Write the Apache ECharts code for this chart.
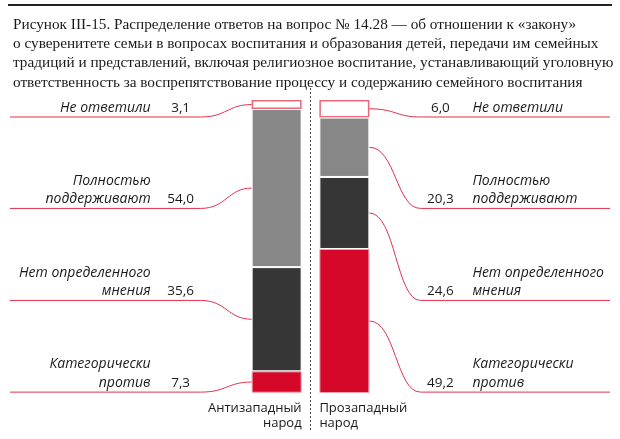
<!DOCTYPE html>
<html><head><meta charset="utf-8">
<script src="https://cdn.jsdelivr.net/npm/echarts@6/dist/echarts.min.js"></script>
<style>html,body{margin:0;padding:0;background:#fff}#c{width:620px;height:439px}</style>
</head><body><div id="c"></div>
<script>
const titleLines = [
  'Рисунок III-15. Распределение ответов на вопрос № 14.28 — об отношении к «закону»',
  'о суверенитете семьи в вопросах воспитания и образования детей, передачи им семейных',
  'традиций и представлений, включая религиозное воспитание, устанавливающий уголовную',
  'ответственность за воспрепятствование процессу и содержанию семейного воспитания'
];
const groups = ['Антизападный\nнарод', 'Прозападный\nнарод'];
const answers = ['Не ответили', 'Полностью\nподдерживают', 'Нет определенного\nмнения', 'Категорически\nпротив'];
const antiWestern = [3.1, 54.0, 35.6, 7.3];
const proWestern = [6.0, 20.3, 24.6, 49.2];

const valuesByGroup = [antiWestern, proWestern];
const fills = ['#ffffff', '#878787', '#363636', '#d5082a'];
const borders = ['#e8687a', '#ffffff', '#ffffff', '#f2a3ae'];
const lineColor = '#e2304a';
const rowFrac = [0.058, 0.370, 0.684, 0.997];
const barW = 50;
const fmt = v => v.toFixed(1).replace('.', ',');

const maxTotal = Math.max(...valuesByGroup.map(a => a.reduce((s, v) => s + v, 0)));

const barSeries = answers.map((name, i) => ({
  name, type: 'bar', stack: 'all', barWidth: barW,
  data: valuesByGroup.map(arr => arr[i]),
  itemStyle: { color: fills[i], borderColor: borders[i], borderWidth: i === 0 ? 1.5 : 1 },
  emphasis: { disabled: true }, silent: true
}));

const annData = [];
valuesByGroup.forEach((arr, g) => {
  let cum = 0;
  arr.forEach((v, i) => { annData.push([g, cum + v / 2, i, v]); cum += v; });
});

function renderItem(params, api) {
  const g = api.value(0), mid = api.value(1), row = api.value(2), val = api.value(3);
  const cs = params.coordSys;
  const p = api.coord([g, mid]);
  const band = api.size([1, 0])[0];
  const rowY = cs.y + rowFrac[row] * cs.height;
  const children = [];
  const labFont = 'italic 14px "Open Sans"';
  const valFont = '13.5px "Open Sans"';
  if (g === 0) {
    const edge = p[0] - barW / 2;
    const x0 = edge - 51;
    children.push({ type: 'line', shape: { x1: 10, y1: rowY, x2: x0, y2: rowY }, style: { stroke: lineColor, lineWidth: 1 } });
    children.push({ type: 'bezierCurve', shape: { x1: x0, y1: rowY, cpx1: x0 + 26, cpy1: rowY, cpx2: edge - 24, cpy2: p[1], x2: edge, y2: p[1] }, style: { stroke: lineColor, lineWidth: 1, fill: null } });
    children.push({ type: 'text', style: { text: fmt(val), x: edge - 71, y: rowY - 9, align: 'center', verticalAlign: 'middle', font: valFont, fill: '#1a1a1a' } });
    children.push({ type: 'text', style: { text: answers[row], x: edge - 101, y: rowY, align: 'right', verticalAlign: 'bottom', font: labFont, lineHeight: 18.5, fill: '#1a1a1a' } });
  } else {
    const edge = p[0] + barW / 2;
    const x1 = edge + 51;
    children.push({ type: 'line', shape: { x1: x1, y1: rowY, x2: 610, y2: rowY }, style: { stroke: lineColor, lineWidth: 1 } });
    children.push({ type: 'bezierCurve', shape: { x1: edge, y1: p[1], cpx1: edge + 26, cpy1: p[1], cpx2: x1 - 24, cpy2: rowY, x2: x1, y2: rowY }, style: { stroke: lineColor, lineWidth: 1, fill: null } });
    children.push({ type: 'text', style: { text: fmt(val), x: edge + 71, y: rowY - 9, align: 'center', verticalAlign: 'middle', font: valFont, fill: '#1a1a1a' } });
    children.push({ type: 'text', style: { text: answers[row], x: edge + 103, y: rowY, align: 'left', verticalAlign: 'bottom', font: labFont, lineHeight: 18.5, fill: '#1a1a1a' } });
  }
  if (row === answers.length - 1) {
    const gx = g === 0 ? p[0] + barW / 2 : p[0] - barW / 2;
    children.push({ type: 'text', style: { text: groups[g], x: gx, y: cs.y + cs.height + 8, align: g === 0 ? 'right' : 'left', verticalAlign: 'top', font: '13px "Open Sans"', lineHeight: 15, fill: '#1a1a1a' } });
  }
  if (g === 1 && row === 0) {
    const sx = p[0] - band / 2;
    children.push({ type: 'line', shape: { x1: sx, y1: cs.y - 12, x2: sx, y2: cs.y + cs.height + 38 }, style: { stroke: '#444', lineWidth: 1, lineDash: [2, 2] } });
  }
  return { type: 'group', children };
}

const chart = echarts.init(document.getElementById('c'), null, { renderer: 'canvas' });
chart.setOption({
  animation: false,
  title: {
    text: titleLines.join('\n'), left: 8, top: 10,
    textStyle: { fontFamily: 'Liberation Serif', fontSize: 15.25, fontWeight: 'normal', color: '#1a1a1a', lineHeight: 19.3 }
  },
  graphic: [{ type: 'line', shape: { x1: 8, y1: 5, x2: 612, y2: 5 }, style: { stroke: '#222', lineWidth: 2 } }],
  grid: { left: 242.75, right: 241.75, top: 100, bottom: 46, containLabel: false, outerBoundsMode: 'none' },
  xAxis: { type: 'category', data: groups, show: false },
  yAxis: { type: 'value', inverse: true, min: 0, max: maxTotal, show: false },
  series: [...barSeries, {
    type: 'custom', renderItem, data: annData, z: 5, silent: true, clip: false
  }]
});
</script></body></html>
